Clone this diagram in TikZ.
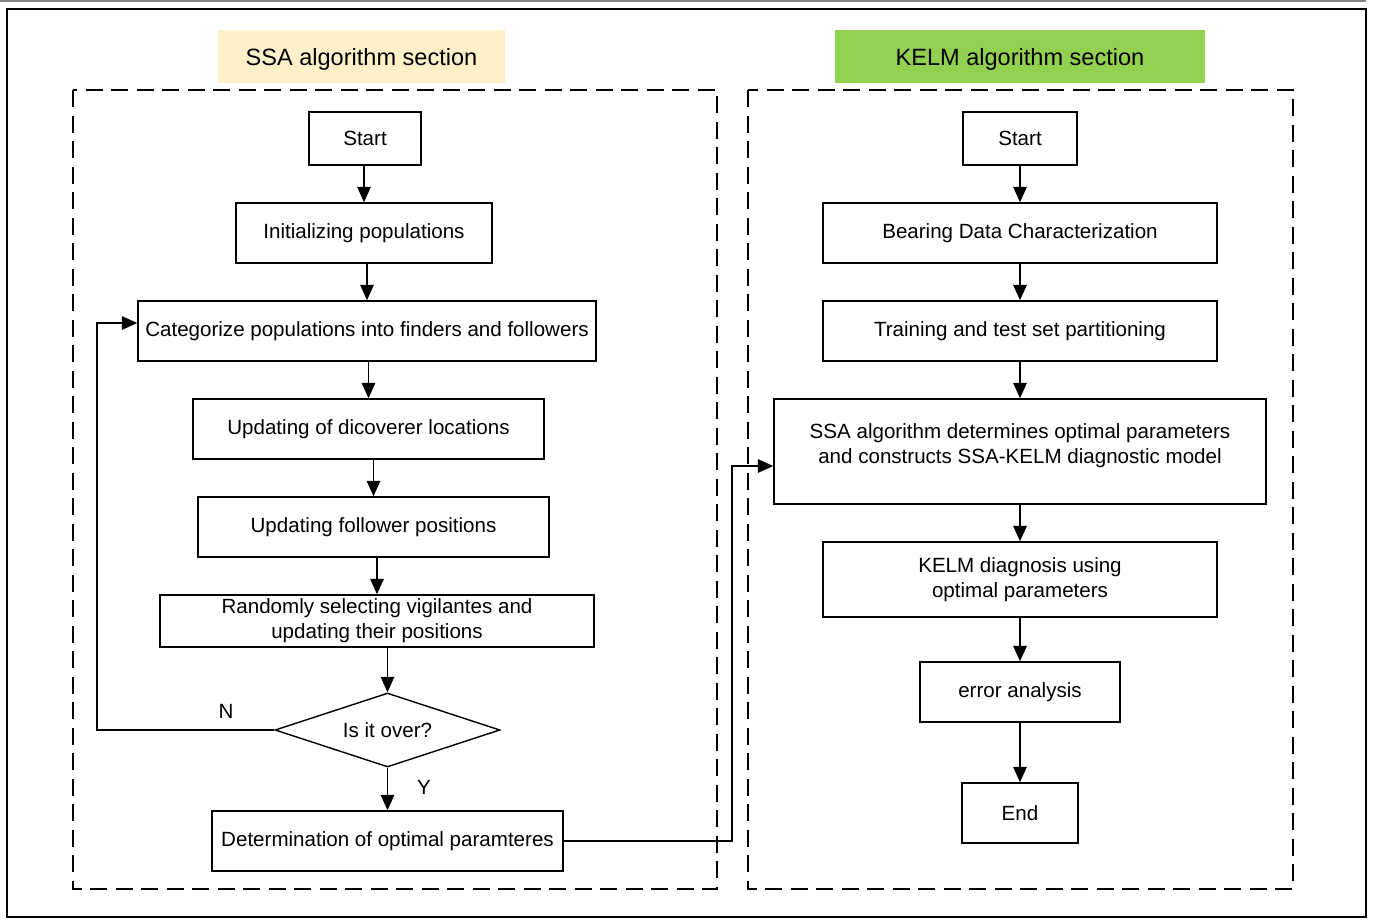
\documentclass[tikz,border=0pt]{standalone}
\usepackage{fontspec}
\setmainfont{Liberation Sans}
\usetikzlibrary{arrows.meta,shapes.geometric}
\definecolor{ssayellow}{HTML}{FDF0C9}
\definecolor{kelmgreen}{HTML}{92D050}
\tikzset{box/.style={rectangle,draw,line width=0.8pt,align=center,inner sep=0pt}}
\tikzset{cond/.style={diamond,draw,line width=0.8pt,inner sep=0pt,aspect=3}}
\tikzset{title/.style={rectangle,inner sep=0pt,text depth=0pt,font=\fontsize{13.4}{16}\selectfont}}
\tikzset{arr/.style={-{Triangle[length=3.1mm,width=2.7mm]},line width=0.85pt}}
\tikzset{sect/.style={line width=0.9pt,dash pattern=on 3.4mm off 1.7mm}}

\begin{document}
\begin{tikzpicture}[x=0.2mm,y=-0.2mm,font=\fontsize{11.7}{14.4}\selectfont]
      \useasboundingbox (0,0) rectangle (1373,919);
      \draw[gray,line width=1pt] (0,1) -- (1366,1);
      \draw[line width=1.1pt] (7,9) rectangle (1366,917);
      % the two sections
      \draw[sect] (73,90) rectangle (717,889);
      \draw[sect] (748,90) rectangle (1293,889);
      \node[title,fill=ssayellow,minimum width=57.4mm,minimum height=10.6mm] (tSSA) at (361.5,56.5) {SSA algorithm section};
      \node[title,fill=kelmgreen,minimum width=74mm,minimum height=10.6mm] (tKELM) at (1020,56.5) {KELM algorithm section};
      % SSA side
      \node[box,minimum width=22.4mm,minimum height=10.6mm] (sStart) at (365,138.5) {Start};
      \node[box,minimum width=51.2mm,minimum height=12mm] (sInit) at (364,233) {Initializing populations};
      \node[box,minimum width=91.6mm,minimum height=12mm] (sCat) at (367,331) {Categorize populations into finders and followers};
      \node[box,minimum width=70.2mm,minimum height=12mm] (sDisc) at (368.5,429) {Updating of dicoverer locations};
      \node[box,minimum width=70.2mm,minimum height=12mm] (sFoll) at (373.5,527) {Updating follower positions};
      \node[box,minimum width=86.8mm,minimum height=10.4mm] (sRand) at (377,621) {Randomly selecting vigilantes and\\updating their positions};
      \node[cond,minimum width=45mm,minimum height=14.8mm] (sOver) at (387.5,730) {Is it over?};
      \node[box,minimum width=70.2mm,minimum height=12mm] (sDet) at (387.5,841) {Determination of optimal paramteres};
      \node (lblN) at (226,711) {N};
      \node (lblY) at (424,787) {Y};
      % KELM side
      \node[box,minimum width=22.8mm,minimum height=10.6mm] (kStart) at (1020,138.5) {Start};
      \node[box,minimum width=78.8mm,minimum height=12mm] (kBear) at (1020,233) {Bearing Data Characterization};
      \node[box,minimum width=78.8mm,minimum height=12mm] (kTrain) at (1020,331) {Training and test set partitioning};
      \node[box,minimum width=98.4mm,minimum height=21mm,text depth=9pt] (kSSA) at (1020,451.5) {SSA algorithm determines optimal parameters\\and constructs SSA-KELM diagnostic model};
      \node[box,minimum width=78.8mm,minimum height=15mm] (kDiag) at (1020,579.5) {KELM diagnosis using\\optimal parameters};
      \node[box,minimum width=40mm,minimum height=12mm] (kErr) at (1020,692) {error analysis};
      \node[box,minimum width=23.2mm,minimum height=12mm] (kEnd) at (1020,813) {End};
      \foreach \a/\b in {sStart/sInit,sInit/sCat,sCat/sDisc,sDisc/sFoll,sFoll/sRand,sRand/sOver,sOver/sDet,
                         kStart/kBear,kBear/kTrain,kTrain/kSSA,kSSA/kDiag,kDiag/kErr,kErr/kEnd}
        \draw[arr] (\a.south -| \b.north) -- (\b.north);
      % loop back and link between sections
      \coordinate (back) at (97,323);
      \draw[arr] (sOver.west) -| (back) -- (sCat.west |- back);
      \coordinate (link) at (732,466);
      \draw[arr] (sDet.east) -| (link) -- (kSSA.west |- link);
    \end{tikzpicture}
\end{document}
